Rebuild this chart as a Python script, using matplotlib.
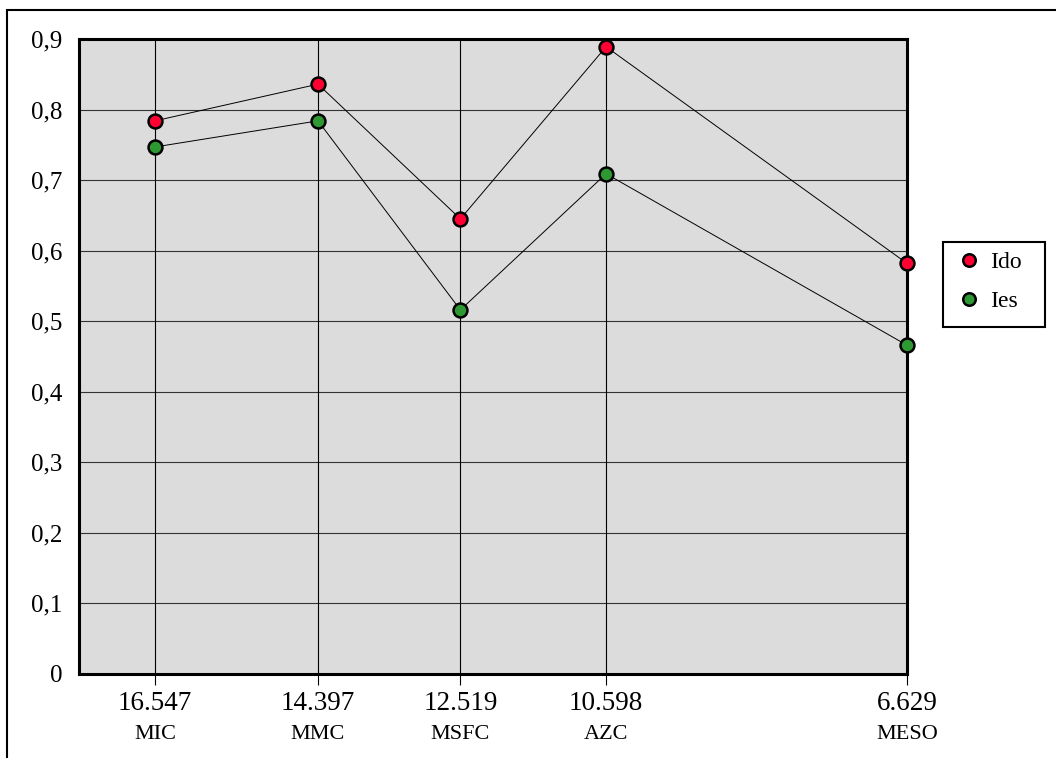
import matplotlib
matplotlib.use("Agg")
import matplotlib.pyplot as plt
from matplotlib.patches import Rectangle
from matplotlib.lines import Line2D

x_values = [16.547, 14.397, 12.519, 10.598, 6.629]
x_numbers = ["16.547", "14.397", "12.519", "10.598", "6.629"]
x_names = ["MIC", "MMC", "MSFC", "AZC", "MESO"]
ido = [0.784, 0.836, 0.645, 0.889, 0.582]
ies = [0.747, 0.784, 0.516, 0.709, 0.466]
y_ticks = [0, 0.1, 0.2, 0.3, 0.4, 0.5, 0.6, 0.7, 0.8, 0.9]
y_labels = ["0", "0,1", "0,2", "0,3", "0,4", "0,5", "0,6", "0,7", "0,8", "0,9"]

plt.rcParams['font.family'] = ['Liberation Serif', 'DejaVu Serif']

W, H = 1056, 758
fig = plt.figure(figsize=(W / 100, H / 100), dpi=100)
fig.patch.set_facecolor('white')

# outer frame (extends beyond image on right/bottom)
fig.add_artist(Rectangle((7 / W, -0.1), 1.2, 1 - 10 / H + 0.1, transform=fig.transFigure,
                         fill=False, edgecolor='black', linewidth=1.5))

ax = fig.add_axes([79 / W, 1 - 674 / H, (907 - 79) / W, (674 - 39) / H])
ax.set_facecolor('#dcdcdc')
ax.set_xlim(17.549, 6.629)
ax.set_ylim(0, 0.9)

for v in y_ticks[1:-1]:
    ax.axhline(v, color='#333333', linewidth=0.8, zorder=1)
for xv in x_values:
    ax.axvline(xv, color='black', linewidth=0.8, zorder=1)

red = '#ff0033'
green = '#2e9933'
ax.plot(x_values, ido, color='black', linewidth=0.7, marker='o', markersize=10,
        markerfacecolor=red, markeredgecolor='black', markeredgewidth=1.8,
        zorder=5, clip_on=False)
ax.plot(x_values, ies, color='black', linewidth=0.7, marker='o', markersize=10,
        markerfacecolor=green, markeredgecolor='black', markeredgewidth=1.8,
        zorder=5, clip_on=False)

for s in ax.spines.values():
    s.set_linewidth(2.2)
    s.set_color('black')

ax.set_yticks(y_ticks)
ax.set_yticklabels(y_labels, fontsize=18)
ax.tick_params(axis='y', length=0, pad=12)

ax.set_xticks(x_values)
ax.set_xticklabels(x_numbers, fontsize=19.5)
ax.tick_params(axis='x', length=8, width=0.8, direction='out', pad=4)

trans = ax.get_xaxis_transform()
for xv, nm in zip(x_values, x_names):
    ax.text(xv, -0.095, nm, transform=trans, ha='center', va='center', fontsize=16)

# legend frame
fig.add_artist(Rectangle((943 / W, 1 - 327 / H), (1045 - 943) / W, (327 - 242) / H,
                         transform=fig.transFigure, fill=True, facecolor='white',
                         edgecolor='black', linewidth=1.5, zorder=3))

handles = [
    Line2D([], [], linestyle='none', marker='o', markersize=9, markerfacecolor=red,
           markeredgecolor='black', markeredgewidth=1.8, label='Ido'),
    Line2D([], [], linestyle='none', marker='o', markersize=9, markerfacecolor=green,
           markeredgecolor='black', markeredgewidth=1.8, label='Ies'),
]
leg = fig.legend(handles=handles, loc='center left', bbox_to_anchor=(963 / W, 1 - 282 / H),
                 frameon=False, fontsize=17, handlelength=0.5,
                 handletextpad=0.64, borderpad=0, labelspacing=0.72, borderaxespad=0)
leg.set_zorder(4)

fig.savefig('out.png', dpi=100, facecolor='white')
